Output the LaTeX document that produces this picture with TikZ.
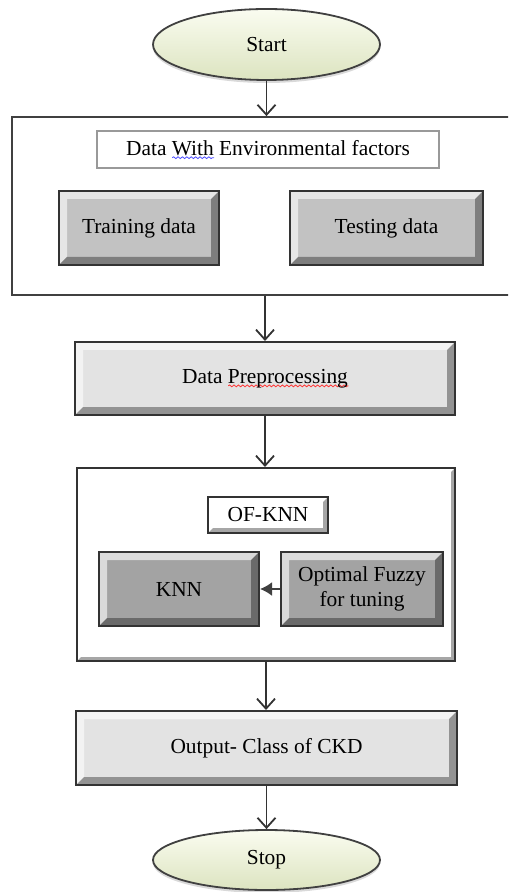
\documentclass[tikz,border=0pt]{standalone}
\usepackage{fontspec}
\setmainfont{Liberation Serif}
\usepackage{tikz}
\usetikzlibrary{arrows.meta,shapes.geometric,calc,shadows,decorations.pathmorphing}
\usepackage{xcolor}
\definecolor{ovaltop}{RGB}{250,252,240}
\definecolor{ovalbottom}{RGB}{220,228,192}
\newlength{\spellwd}
\newcommand{\spellmark}[2]{\settowidth{\spellwd}{#2}\rlap{\tikz[baseline=0pt]\draw[#1,line width=0.4pt,decorate,decoration={snake,amplitude=0.45pt,segment length=2.2pt}] (0pt,-1.3pt) -- (\spellwd,-1.3pt);}#2}

\begin{document}
\begin{tikzpicture}[x=0.5pt,y=-0.5pt,every node/.style={font=\rmfamily\fontsize{10.7}{12.5}\selectfont,align=center,inner sep=1pt},
oval/.style={ellipse,draw=black!75,line width=0.9pt,top color=ovaltop,bottom color=ovalbottom,drop shadow={opacity=.3,shadow xshift=0pt,shadow yshift=-1.5pt}},
raised/.style 2 args={draw=black!80,line width=1pt,fill=#1,path picture={
\fill[white,opacity=.6] (path picture bounding box.north west) -- (path picture bounding box.north east) -- ([shift={(-#2,-#2)}]path picture bounding box.north east) -- ([shift={(#2,-#2)}]path picture bounding box.north west) -- ([shift={(#2,#2)}]path picture bounding box.south west) -- (path picture bounding box.south west) -- cycle;
\fill[black,opacity=.35] (path picture bounding box.south west) -- (path picture bounding box.south east) -- (path picture bounding box.north east) -- ([shift={(-#2,-#2)}]path picture bounding box.north east) -- ([shift={(-#2,#2)}]path picture bounding box.south east) -- ([shift={(#2,#2)}]path picture bounding box.south west) -- cycle;}},
group/.style={draw=black!75,line width=0.9pt,fill=white},
caption/.style={draw=black!40,line width=0.6pt,fill=white},
arrow/.style={-{Straight Barb[length=5pt,width=9pt]},line width=0.9pt,draw=black!80}]
\useasboundingbox (0,0) rectangle (508,892);
\clip (0,0) rectangle (508,892);
\node[oval,minimum width=113.5pt,minimum height=35.5pt] (start) at (266.5,44.5) {Start};
\node[group,minimum width=251.5pt,minimum height=89pt] (datain) at (263.5,206) {};
\node[caption,minimum width=171pt,minimum height=18.5pt] (header) at (268,149.5) {Data \spellmark{blue!70}{With} Environmental factors};
\node[raised={black!24}{4pt},minimum width=80pt,minimum height=37pt] (train) at (139,228) {Training data};
\node[raised={black!24}{4pt},minimum width=96.5pt,minimum height=37pt] (test) at (386.5,228) {Testing data};
\node[raised={black!11}{4pt},minimum width=190pt,minimum height=36.5pt] (prep) at (265,378.5) {Data \spellmark{red!80}{Preprocessing}};
\node[raised={white}{2pt},minimum width=189pt,minimum height=96.5pt] (model) at (266,564.5) {};
\node[raised={white}{2.5pt},minimum width=60pt,minimum height=18pt] (ofknn) at (268,515) {OF-KNN};
\node[raised={black!36}{4pt},minimum width=80pt,minimum height=37pt] (knn) at (179,589) {KNN};
\node[raised={black!36}{4pt},minimum width=81pt,minimum height=37pt] (fuzzy) at (362,589) {Optimal Fuzzy\\for tuning};
\node[raised={black!11}{4pt},minimum width=190.5pt,minimum height=37pt] (output) at (266.5,748) {Output- Class of CKD};
\node[oval,minimum width=113.5pt,minimum height=30pt] (stop) at (266.5,860) {Stop};
\draw[arrow] (start.south) -- (start.south |- datain.north); \draw[arrow] (prep.north |- datain.south) -- (prep.north); \draw[arrow] (prep.south) -- (prep.south |- model.north);
\draw[arrow] (model.south) -- (model.south |- output.north); \draw[arrow] (output.south) -- (output.south |- stop.north);
\draw[-{Latex[length=6pt,width=7pt]},line width=1pt,draw=black!75] (fuzzy.west) -- (knn.east);
\end{tikzpicture}
\end{document}
